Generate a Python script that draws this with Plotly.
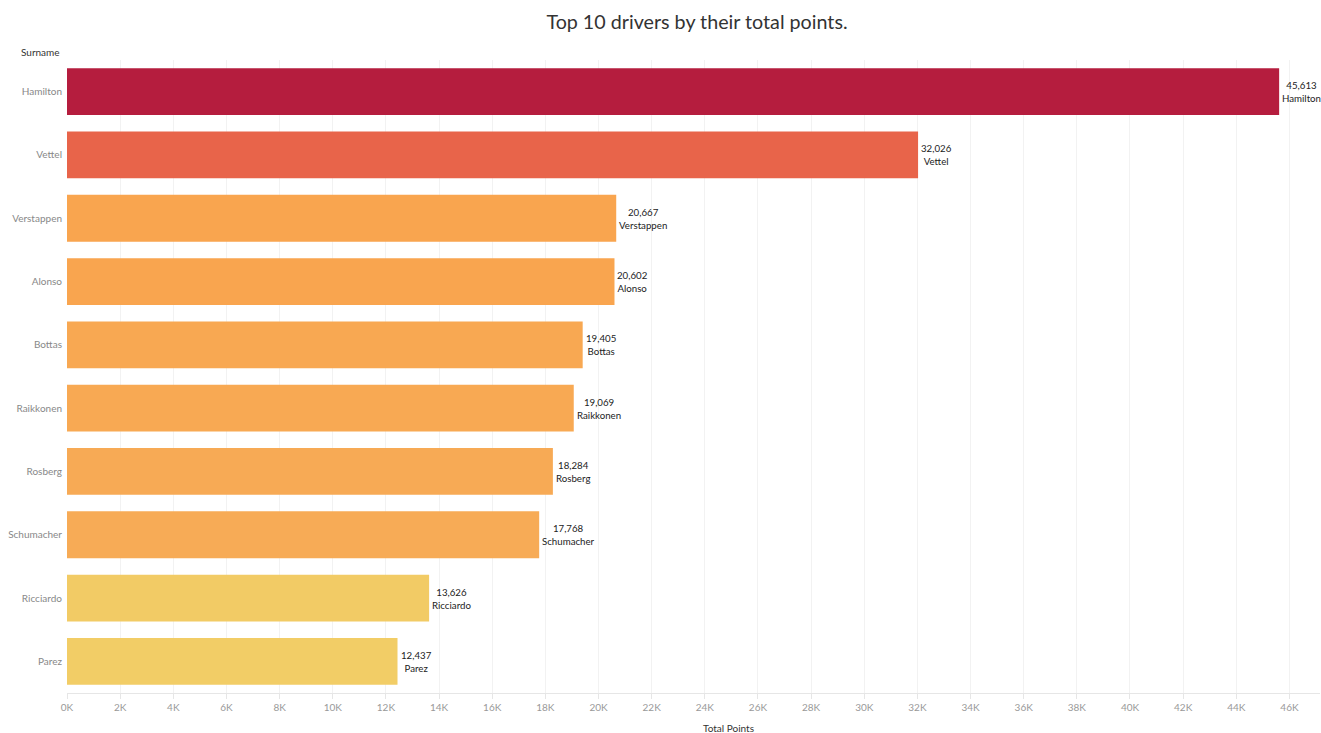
import plotly.graph_objects as go

drivers = ["Hamilton", "Vettel", "Verstappen", "Alonso", "Bottas",
           "Raikkonen", "Rosberg", "Schumacher", "Ricciardo", "Parez"]
total_points = [45613, 32026, 20667, 20602, 19405, 19069, 18284, 17768, 13626, 12437]
tick_vals = list(range(0, 47000, 2000))
tick_text = [f"{v // 1000}K" for v in tick_vals]

bar_colors = ["#B51D3E", "#E8644A", "#F9A54F", "#F9A54F", "#F8A852",
              "#F8A953", "#F7AA55", "#F7AB56", "#F2CB65", "#F2CD66"]

FONT = "Lato, Open Sans, sans-serif"

# plot area in pixels
W, H = 1321, 733
L, R, T, B = 67, 1, 60, 40
PW, PH = W - L - R, H - T - B


def px_to_paper(px, py):
    return (px - L) / PW, (H - B - py) / PH


fig = go.Figure()
fig.add_trace(go.Bar(
    x=total_points,
    y=drivers,
    orientation="h",
    marker=dict(color=bar_colors, line=dict(width=0)),
    hoverinfo="skip",
))

# value + name labels to the right of each bar
for name, val in zip(drivers, total_points):
    fig.add_annotation(
        x=val, y=name, xref="x", yref="y",
        text=f"{val:,}<br>{name}",
        showarrow=False, xanchor="left", xshift=1, align="center",
        font=dict(family=FONT, size=9.7, color="#222222"),
    )

sx, sy = px_to_paper(62, 52)
fig.add_annotation(
    x=sx, y=sy, xref="paper", yref="paper",
    text="Surname", showarrow=False, xanchor="right", yanchor="middle",
    font=dict(family=FONT, size=10, color="#333333"),
)
tx, ty = px_to_paper(728, 728)
fig.add_annotation(
    x=tx, y=ty, xref="paper", yref="paper",
    text="Total Points", showarrow=False, xanchor="center", yanchor="middle",
    font=dict(family=FONT, size=10, color="#333333"),
)

fig.update_layout(
    width=W, height=H,
    paper_bgcolor="white", plot_bgcolor="white",
    margin=dict(l=L, r=R, t=T, b=B, autoexpand=False),
    title=dict(text="Top 10 drivers by their total points.",
               x=697 / W, xanchor="center", y=1 - 22 / H, yanchor="middle",
               font=dict(family=FONT, size=19.7, color="#333333")),
    bargap=0.26,
    showlegend=False,
    xaxis=dict(
        range=[0, 47150],
        tickvals=tick_vals, ticktext=tick_text,
        tickfont=dict(family=FONT, size=10, color="#999999"),
        showgrid=True, gridcolor="#F2F2F2", gridwidth=1,
        zeroline=False, showline=True, linecolor="#E6E6E6",
        ticks="outside", ticklen=5, tickcolor="#E6E6E6",
        fixedrange=True,
    ),
    yaxis=dict(
        categoryorder="array", categoryarray=drivers, autorange="reversed",
        tickfont=dict(family=FONT, size=10, color="#888888"),
        showgrid=False, zeroline=False, showline=False,
        ticks="", ticklabelstandoff=4,
        fixedrange=True,
    ),
)

fig.write_html("out.html")
